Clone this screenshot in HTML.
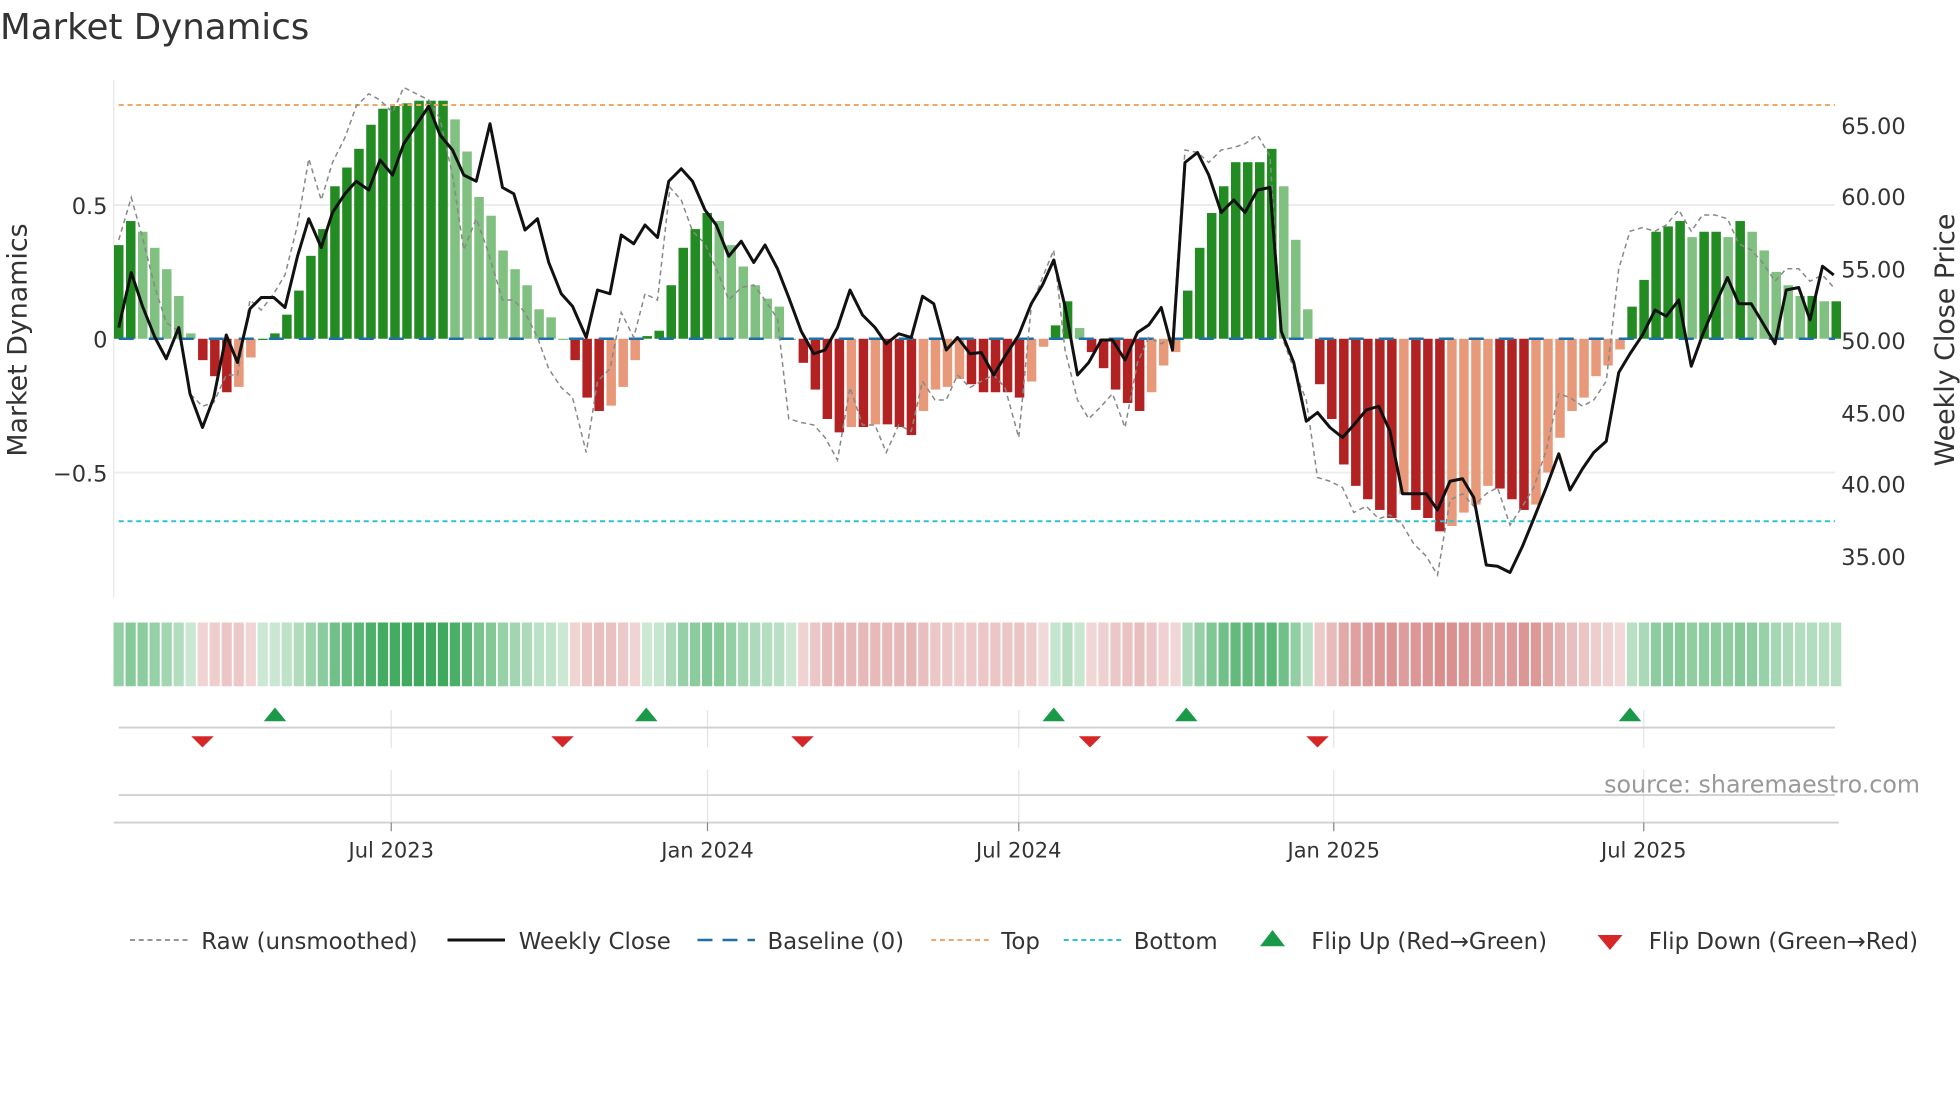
<!DOCTYPE html>
<html><head><meta charset="utf-8"><style>
html,body{margin:0;padding:0;background:#fff;}
svg{display:block;font-family:"DejaVu Sans","Liberation Sans",sans-serif;}
</style></head><body>
<svg id="s" width="1960" height="1102" viewBox="0 0 1568 881.6" xmlns="http://www.w3.org/2000/svg">
<rect width="1568" height="881.6" fill="#fff"/>
<text x="0" y="31" font-size="28.5" fill="#333">Market Dynamics</text>
<line x1="91" y1="64" x2="91" y2="478" stroke="#e6e6e6"/>
<line x1="91" y1="164" x2="1468" y2="164" stroke="#ececec" stroke-width="1.5"/>
<line x1="91" y1="378" x2="1468" y2="378" stroke="#ececec" stroke-width="1.5"/>
<g font-size="18" fill="#333" text-anchor="end">
<text x="86" y="171">0.5</text><text x="86" y="278">0</text><text x="86" y="385">−0.5</text></g>
<g font-size="18" fill="#333">
<text x="1473" y="107">65.00</text><text x="1473" y="164">60.00</text><text x="1473" y="222">55.00</text>
<text x="1473" y="279">50.00</text><text x="1473" y="337">45.00</text><text x="1473" y="394">40.00</text><text x="1473" y="452">35.00</text></g>
<text transform="translate(21,272) rotate(-90)" font-size="21.5" fill="#333" text-anchor="middle">Market Dynamics</text>
<text transform="translate(1563,272) rotate(-90)" font-size="21.5" fill="#333" text-anchor="middle">Weekly Close Price</text>
<g id="bars"></g>
<line x1="95" y1="84" x2="1468" y2="84" stroke="#f0a868" stroke-width="1.6" stroke-dasharray="4,3"/>
<line x1="95" y1="417" x2="1468" y2="417" stroke="#2cc4d4" stroke-width="1.6" stroke-dasharray="4,3"/>
<line x1="95" y1="271" x2="1468" y2="271" stroke="#1f6fa8" stroke-width="2" stroke-dasharray="12,12"/>
<polyline id="raw" fill="none" stroke="#888" stroke-width="1.2" stroke-dasharray="4,3"/>
<polyline id="px" fill="none" stroke="#111" stroke-width="2.4" stroke-linejoin="round"/>
<g id="heat"></g>
<g stroke="#e4e4e8" stroke-width="1">
<line x1="313" y1="568" x2="313" y2="598"/><line x1="566" y1="568" x2="566" y2="598"/><line x1="815" y1="568" x2="815" y2="598"/><line x1="1067" y1="568" x2="1067" y2="598"/><line x1="1315" y1="568" x2="1315" y2="598"/>
<line x1="313" y1="616" x2="313" y2="658"/><line x1="566" y1="616" x2="566" y2="658"/><line x1="815" y1="616" x2="815" y2="658"/><line x1="1067" y1="616" x2="1067" y2="658"/><line x1="1315" y1="616" x2="1315" y2="658"/></g>
<line x1="95" y1="582" x2="1468" y2="582" stroke="#d0d0d0" stroke-width="1.5"/>
<line x1="95" y1="636" x2="1468" y2="636" stroke="#d0d0d0" stroke-width="1.5"/>
<line x1="91" y1="658" x2="1471" y2="658" stroke="#d0d0d0" stroke-width="1.5"/>
<g id="flips"></g>
<text x="1536" y="634" font-size="19" fill="#999" text-anchor="end">source: sharemaestro.com</text>
<g stroke="#888" stroke-width="1"><line x1="313" y1="658" x2="313" y2="665"/><line x1="566" y1="658" x2="566" y2="665"/><line x1="815" y1="658" x2="815" y2="665"/><line x1="1067" y1="658" x2="1067" y2="665"/><line x1="1315" y1="658" x2="1315" y2="665"/></g>
<g font-size="16.8" fill="#333" text-anchor="middle">
<text x="313" y="686">Jul 2023</text><text x="566" y="686">Jan 2024</text><text x="815" y="686">Jul 2024</text><text x="1067" y="686">Jan 2025</text><text x="1315" y="686">Jul 2025</text></g>
<g font-size="18.3" fill="#333">
<line x1="104" y1="752" x2="150" y2="752" stroke="#888" stroke-width="1.4" stroke-dasharray="4,3"/><text x="161" y="759">Raw (unsmoothed)</text>
<line x1="358" y1="752" x2="404" y2="752" stroke="#111" stroke-width="2.4"/><text x="415" y="759">Weekly Close</text>
<line x1="558" y1="752" x2="604" y2="752" stroke="#1f6fa8" stroke-width="2" stroke-dasharray="12,8"/><text x="614" y="759">Baseline (0)</text>
<line x1="745" y1="752" x2="791" y2="752" stroke="#f0a868" stroke-width="1.6" stroke-dasharray="4,3"/><text x="801" y="759">Top</text>
<line x1="851" y1="752" x2="897" y2="752" stroke="#2cc4d4" stroke-width="1.6" stroke-dasharray="4,3"/><text x="907" y="759">Bottom</text>
<polygon points="1008,757 1018,744 1028,757" fill="#1a9a48"/><text x="1049" y="759">Flip Up (Red→Green)</text>
<polygon points="1278,748 1298,748 1288,760" fill="#d62728"/><text x="1319" y="759">Flip Down (Green→Red)</text>
</g>
</svg>
<script>
var V=[0.35,0.44,0.40,0.34,0.26,0.16,0.02,-0.08,-0.14,-0.2,-0.18,-0.07,0.0,0.02,0.09,0.18,0.31,0.41,0.57,0.64,0.71,0.8,0.86,0.87,0.88,0.89,0.89,0.89,0.82,0.70,0.53,0.46,0.33,0.26,0.2,0.11,0.08,0.0,-0.08,-0.22,-0.27,-0.25,-0.18,-0.08,0.01,0.03,0.2,0.34,0.41,0.47,0.44,0.35,0.27,0.2,0.15,0.12,0.0,-0.09,-0.19,-0.3,-0.35,-0.33,-0.33,-0.32,-0.32,-0.33,-0.36,-0.27,-0.19,-0.18,-0.15,-0.17,-0.2,-0.2,-0.2,-0.22,-0.16,-0.03,0.05,0.14,0.04,-0.05,-0.11,-0.19,-0.24,-0.27,-0.2,-0.1,-0.05,0.18,0.34,0.47,0.57,0.66,0.66,0.66,0.71,0.57,0.37,0.11,-0.17,-0.3,-0.47,-0.55,-0.6,-0.64,-0.67,-0.58,-0.64,-0.67,-0.72,-0.7,-0.65,-0.62,-0.55,-0.56,-0.6,-0.64,-0.62,-0.5,-0.37,-0.27,-0.22,-0.14,-0.1,-0.04,0.12,0.22,0.4,0.42,0.44,0.38,0.4,0.4,0.38,0.44,0.4,0.33,0.25,0.2,0.16,0.16,0.14,0.14];
var NS="http://www.w3.org/2000/svg";
function el(t,a,p){var e=document.createElementNS(NS,t);for(var k in a)e.setAttribute(k,a[k]);p.appendChild(e);return e;}
var bars=document.getElementById('bars'),heat=document.getElementById('heat');
var n=V.length,dx=(1469-95)/(n-1);
for(var i=0;i<n;i++){var v=V[i],x=95+i*dx,p=i?V[i-1]:v,c;
 if(v>=0)c=(v>=p)?'#228b22':'#80c080';else c=(v<=p)?'#b22222':'#e8997a';
 var h=Math.abs(v)*214,y=v>=0?271-h:271;
 el('rect',{x:x-3.8,y:y,width:7.6,height:Math.max(h,1),fill:c},bars);
 var a=0.25+0.7*Math.min(Math.abs(v)/0.9,1);
 el('rect',{x:x-4.2,y:498,width:8.2,height:51,fill:v>=0?'rgb(40,160,75)':'rgb(200,90,90)','fill-opacity':v>=0?a*0.95:a*0.85},heat);}
var R=[[95,192],[105,158],[114,190],[124,230],[133,258],[143,265],[152,315],[162,325],[171,322],[181,300],[190,300],[200,240],[209,248],[219,235],[228,220],[238,180],[247,127],[257,160],[266,130],[276,110],[285,85],[295,75],[304,80],[314,90],[323,70],[333,75],[343,80],[352,95],[362,140],[371,200],[381,175],[390,200],[402,240],[411,240],[420,250],[430,270],[439,295],[449,310],[458,318],[469,362],[478,305],[488,295],[497,250],[507,270],[516,235],[526,240],[536,150],[545,160],[554,185],[564,195],[573,215],[583,240],[593,230],[603,228],[612,240],[622,255],[631,335],[641,338],[651,340],[660,350],[670,368],[680,310],[690,340],[700,340],[709,362],[719,340],[729,345],[738,305],[748,320],[757,320],[766,300],[776,310],[785,305],[795,300],[804,310],[815,350],[825,245],[834,222],[843,200],[852,280],[862,320],[871,335],[881,325],[890,315],[900,342],[910,290],[919,270],[929,275],[938,270],[948,120],[958,122],[967,130],[977,120],[987,118],[996,115],[1006,108],[1016,125],[1025,268],[1035,295],[1045,320],[1054,382],[1064,385],[1074,390],[1083,410],[1093,405],[1103,415],[1112,412],[1122,420],[1131,435],[1141,445],[1150,460],[1160,400],[1170,395],[1179,405],[1189,395],[1198,390],[1208,420],[1218,405],[1227,390],[1237,360],[1247,315],[1256,318],[1266,325],[1275,320],[1285,305],[1295,215],[1304,185],[1314,182],[1324,185],[1333,180],[1343,168],[1353,185],[1362,172],[1372,172],[1382,175],[1391,195],[1401,200],[1410,210],[1420,225],[1429,215],[1439,215],[1448,225],[1458,220],[1467,230]];
var P=[[95,262],[105,218],[114,245],[124,270],[133,287],[143,262],[152,315],[162,342],[171,318],[181,268],[190,290],[200,247],[209,238],[219,238],[228,246],[238,205],[247,175],[257,198],[266,170],[276,155],[285,145],[295,152],[304,128],[314,140],[323,115],[333,100],[343,85],[352,108],[362,120],[371,140],[381,145],[392,99],[402,150],[411,155],[420,184],[430,175],[439,210],[449,235],[458,245],[469,270],[478,232],[488,235],[497,188],[507,195],[516,180],[526,190],[535,145],[545,135],[554,145],[564,168],[573,180],[583,205],[593,193],[603,210],[612,196],[622,215],[631,238],[641,265],[651,283],[660,280],[670,262],[680,232],[690,252],[700,262],[709,275],[719,267],[729,270],[738,237],[747,243],[757,280],[766,270],[776,283],[785,282],[795,300],[804,285],[815,268],[825,243],[834,228],[843,208],[852,245],[862,300],[871,290],[881,272],[890,272],[900,288],[910,266],[919,260],[929,246],[938,280],[948,130],[958,122],[967,140],[977,170],[987,160],[996,170],[1006,152],[1016,150],[1025,265],[1035,290],[1045,337],[1054,330],[1064,342],[1074,350],[1083,340],[1093,328],[1103,325],[1112,345],[1122,395],[1131,395],[1141,395],[1150,408],[1160,385],[1170,383],[1179,398],[1189,452],[1198,453],[1208,458],[1218,437],[1227,415],[1237,390],[1247,363],[1256,392],[1266,375],[1275,362],[1285,353],[1295,298],[1304,283],[1314,268],[1324,248],[1333,253],[1343,240],[1353,293],[1362,268],[1372,244],[1382,222],[1391,243],[1401,243],[1410,258],[1420,275],[1429,232],[1439,230],[1448,256],[1458,213],[1467,220]];
document.getElementById('raw').setAttribute('points',R.map(function(p){return p.join(',')}).join(' '));
document.getElementById('px').setAttribute('points',P.map(function(p){return p.join(',')}).join(' '));
var f=document.getElementById('flips');
[220,517,843,949,1304].forEach(function(x){el('polygon',{points:(x-9)+',577 '+x+',566 '+(x+9)+',577',fill:'#1a9a48'},f);});
[162,450,642,872,1054].forEach(function(x){el('polygon',{points:(x-9)+',589 '+(x+9)+',589 '+x+',598',fill:'#d62728'},f);});
</script>
</body></html>
